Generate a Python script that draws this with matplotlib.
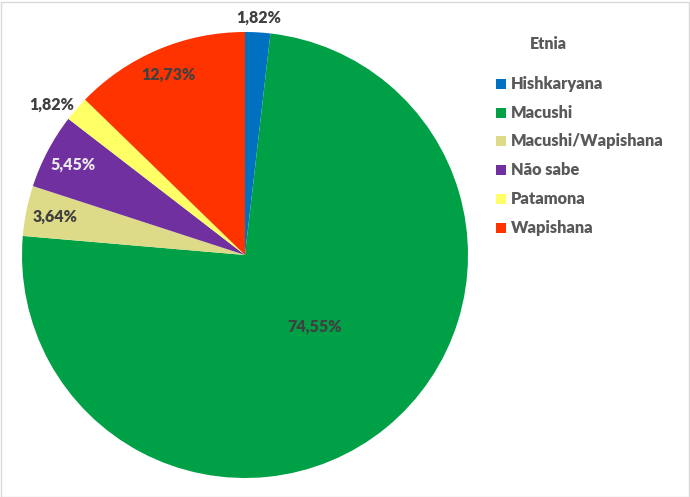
import matplotlib.pyplot as plt
from matplotlib.patches import Rectangle
import numpy as np

plt.rcParams['font.family'] = ['Lato', 'DejaVu Sans']

categories = ["Hishkaryana", "Macushi", "Macushi/Wapishana", "Não sabe", "Patamona", "Wapishana"]
values = [1.82, 74.55, 3.64, 5.45, 1.82, 12.73]
colors = ["#0070C0", "#00A046", "#DDDB88", "#7030A0", "#FFFF66", "#FF3300"]
label_colors = ["#404040", "#404040", "#404040", "#E8E8E8", "#404040", "#404040"]
# radial position of each percentage label (fraction of radius)
label_r = [1.065, 0.45, 0.87, 0.87, 1.10, 0.88]
label_da = [0, 5, 0, 0, 3, 0]

fig = plt.figure(figsize=(6.9, 4.97), dpi=100)
ax = fig.add_axes([22 / 690, (497 - 255 - 223) / 497, 446 / 690, 446 / 497])

wedges, _ = ax.pie(values, colors=colors, startangle=90, counterclock=False,
                   radius=1.0, wedgeprops=dict(linewidth=0))
ax.set_xlim(-1, 1)
ax.set_ylim(-1, 1)
ax.set_aspect('equal')
ax.axis('off')

total = sum(values)
start = 90.0
for v, r, da, c in zip(values, label_r, label_da, label_colors):
    span = v / total * 360
    mid = np.deg2rad(start - span / 2 + da)
    start -= span
    ax.text(r * np.cos(mid), r * np.sin(mid), f"{v:.2f}%".replace('.', ','),
            ha='center', va='center', fontsize=11.5, fontweight='heavy', color=c)

# legend
fig.text(548 / 690, 1 - 44 / 497, "Etnia", ha='center', va='center',
         fontsize=11.5, fontweight='heavy', color='#595959')
y0, dy = 84, 28.7
for i, (cat, col) in enumerate(zip(categories, colors)):
    y = y0 + i * dy
    fig.patches.append(Rectangle((496 / 690, 1 - (y + 5) / 497), 10 / 690, 10 / 497,
                                 transform=fig.transFigure, facecolor=col,
                                 edgecolor='none'))
    fig.text(511 / 690, 1 - y / 497, cat, ha='left', va='center',
             fontsize=11.8, fontweight='heavy', color='#595959')

fig.patches.append(Rectangle((0.5 / 690, 0.5 / 497), 688 / 690, 495 / 497,
                             transform=fig.transFigure, facecolor='none',
                             edgecolor='#D9D9D9', linewidth=1))

fig.savefig('out.png', dpi=100)
